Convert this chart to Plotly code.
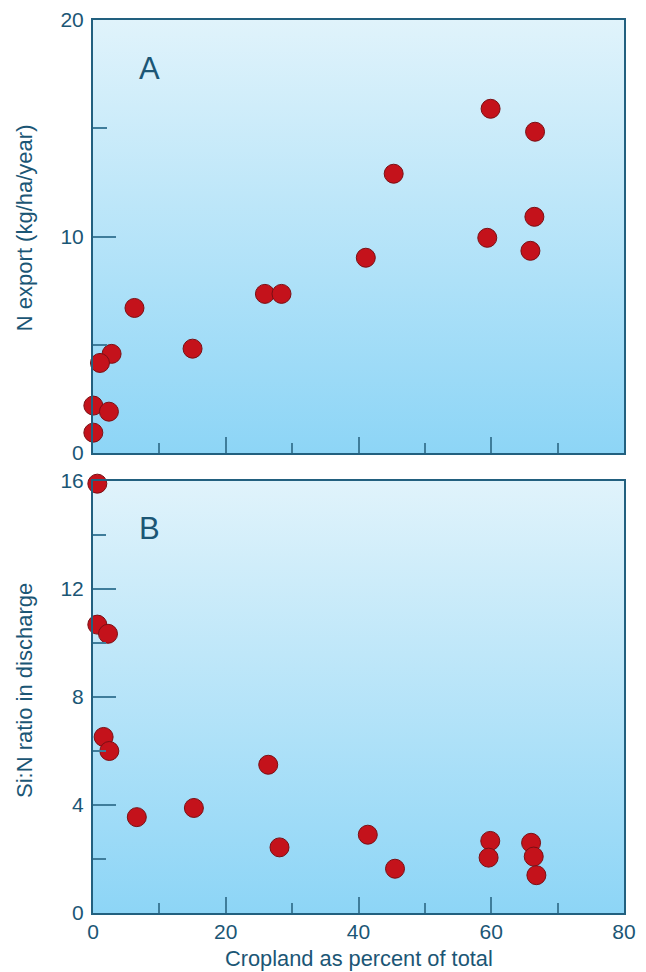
import plotly.graph_objects as go

# Panel A: N export vs cropland
a_cropland = [59.9, 66.6, 45.3, 66.5, 59.4, 65.9, 41.1, 25.9, 28.4, 6.25, 15.0, 2.8, 1.05, 0.05, 2.4, 0.05]
a_n_export = [15.9, 14.84, 12.9, 10.91, 9.94, 9.34, 9.02, 7.35, 7.35, 6.7, 4.82, 4.58, 4.16, 2.19, 1.91, 0.94]

# Panel B: Si:N ratio vs cropland
b_cropland = [0.65, 0.65, 2.26, 1.6, 2.46, 6.6, 15.2, 26.4, 28.1, 41.4, 45.5, 59.85, 59.6, 66.0, 66.4, 66.8]
b_si_n = [15.9, 10.68, 10.34, 6.52, 6.0, 3.55, 3.89, 5.49, 2.43, 2.9, 1.64, 2.67, 2.05, 2.6, 2.09, 1.4]

X_RANGE = [0, 80]
A_RANGE = [0, 20]
B_RANGE = [0, 16]

TEXT = "#1b5675"
LINE = "#22607f"
TICK = "#3f7d9b"
BG_TOP = "#e0f3fb"
BG_BOT = "#8dd5f6"
FONT = "Liberation Sans, Arial, sans-serif"

fig = go.Figure()


def bg_trace(xr, yr, xa, ya):
    return go.Scatter(
        x=[xr[0], xr[1], xr[1], xr[0], xr[0]],
        y=[yr[0], yr[0], yr[1], yr[1], yr[0]],
        xaxis=xa, yaxis=ya, mode="lines", line=dict(width=0),
        fill="toself",
        fillgradient=dict(type="vertical", start=yr[0], stop=yr[1],
                          colorscale=[[0, BG_BOT], [1, BG_TOP]]),
        hoverinfo="skip", showlegend=False,
    )


fig.add_trace(bg_trace(X_RANGE, A_RANGE, "x2", "y2"))
fig.add_trace(bg_trace(X_RANGE, B_RANGE, "x", "y"))

marker = dict(size=19, color="#c4121b", line=dict(color="#7a0f14", width=1))
fig.add_trace(go.Scatter(x=a_cropland, y=a_n_export, mode="markers", marker=marker,
                         xaxis="x2", yaxis="y2", showlegend=False, cliponaxis=False))
fig.add_trace(go.Scatter(x=b_cropland, y=b_si_n, mode="markers", marker=marker,
                         xaxis="x", yaxis="y", showlegend=False, cliponaxis=False))

common_axis = dict(
    showgrid=False, zeroline=False, showline=True, linecolor=LINE, linewidth=2,
    mirror=True, ticks="inside", tickcolor=TICK, tickwidth=2, automargin=False,
    tickfont=dict(family=FONT, size=21, color=TEXT),
)

fig.update_layout(
    width=638, height=964,
    margin=dict(l=85, r=22, t=12, b=59, autoexpand=False),
    paper_bgcolor="white", plot_bgcolor="rgba(0,0,0,0)",
    showlegend=False,
    xaxis=dict(common_axis, range=X_RANGE, domain=[0, 1], anchor="y",
               dtick=20, ticklen=16, tick0=0,
               minor=dict(dtick=10, ticklen=10, ticks="inside", tickcolor=TICK, tickwidth=2),
               ticklabelstandoff=-1),
    yaxis=dict(common_axis, range=B_RANGE, domain=[0, 0.4838], anchor="x",
               dtick=4, ticklen=23,
               minor=dict(dtick=2, ticklen=13, ticks="inside", tickcolor=TICK, tickwidth=2),
               ticklabelstandoff=3),
    xaxis2=dict(common_axis, range=X_RANGE, domain=[0, 1], anchor="y2",
                dtick=20, ticklen=16, showticklabels=False,
                minor=dict(dtick=10, ticklen=10, ticks="inside", tickcolor=TICK, tickwidth=2)),
    yaxis2=dict(common_axis, range=A_RANGE, domain=[0.5151, 1], anchor="x2",
                dtick=10, ticklen=23,
                minor=dict(dtick=5, ticklen=14, ticks="inside", tickcolor=TICK, tickwidth=2),
                ticklabelstandoff=3),
    annotations=[
        dict(text="A", x=0.107, y=0.946, xref="paper", yref="paper", showarrow=False,
             xanchor="center", yanchor="middle",
             font=dict(family=FONT, size=31, color=TEXT)),
        dict(text="B", x=0.107, y=0.431, xref="paper", yref="paper", showarrow=False,
             xanchor="center", yanchor="middle",
             font=dict(family=FONT, size=31, color=TEXT)),
        dict(text="N export (kg/ha/year)", x=-0.13, y=0.768, xref="paper", yref="paper",
             xanchor="center", yanchor="middle",
             textangle=-90, showarrow=False, font=dict(family=FONT, size=22, color=TEXT)),
        dict(text="Si:N ratio in discharge", x=-0.13, y=0.2497, xref="paper", yref="paper",
             xanchor="center", yanchor="middle",
             textangle=-90, showarrow=False, font=dict(family=FONT, size=22, color=TEXT)),
        dict(text="Cropland as percent of total", x=0.5, y=-0.0504, xref="paper", yref="paper",
             xanchor="center", yanchor="middle",
             showarrow=False, font=dict(family=FONT, size=21.8, color=TEXT)),
    ],
)

fig.write_html("out.html")
